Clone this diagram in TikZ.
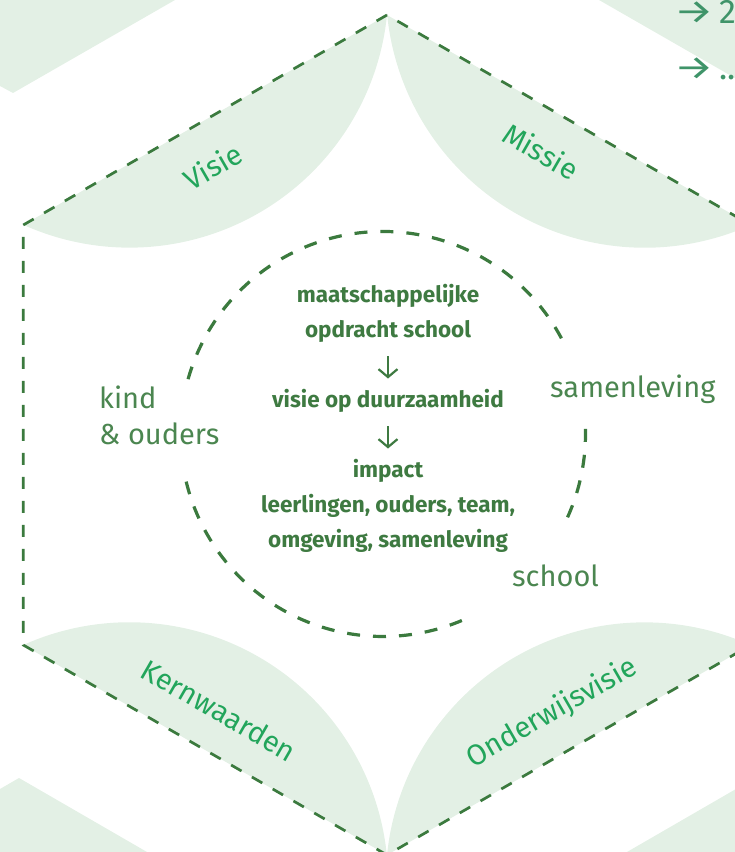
\documentclass[tikz,border=0pt]{standalone}
\usepackage{fontspec}
\setmainfont{Fira Sans}
\usepackage{xcolor}
\usepackage{tikz}
\usetikzlibrary{arrows.meta, calc}

\definecolor{vlak}{HTML}{E3F0E5}
\definecolor{lijn}{HTML}{3B7A3E}
\definecolor{blad}{HTML}{22A55B}
\definecolor{kern}{HTML}{3E7A41}
\definecolor{rand}{HTML}{4B8650}
\definecolor{pijl}{HTML}{3F9469}

\begin{document}
\begin{tikzpicture}[x=1pt, y=1pt,
  zeshoek/.style={lijn, line width=2.7pt, dash pattern=on 12pt off 12pt},
  cirkel/.style={lijn, line width=3.2pt, dash pattern=on 13pt off 13pt},
  bladtekst/.style={blad, font=\fontsize{29}{29}\selectfont},
  kerntekst/.style={kern, font=\bfseries\fontsize{22.5}{22.5}\selectfont, inner sep=0pt, anchor=base},
  randtekst/.style={rand, font=\fontsize{29}{36}\selectfont, inner sep=0pt},
  verwijs/.style={pijl, font=\fontsize{34}{34}\selectfont, inner sep=0pt, anchor=base west},
  volgt/.style={kern, line width=2.2pt, -{Straight Barb[length=8pt, width=19pt]}, shorten <=13pt, shorten >=11pt}
]
\useasboundingbox (0,0) rectangle (735,852);
\clip (0,0) rectangle (735,852);

% achtergrond, stukken van de buren
\fill[vlak] (0,852) -- (175,852) -- (13,759) -- (0,766) -- cycle;
\fill[vlak] (599,852) -- (761,759) -- (761,852) -- cycle;
\fill[vlak] (0,63) -- (19,74) -- (147,0) -- (0,0) -- cycle;
\fill[vlak] (627,0) -- (755,74) -- (755,0) -- cycle;

% zeshoek
\coordinate (O) at (387,417);
\foreach \h/\n in {90/top,150/linksboven,210/linksonder,270/bodem,330/rechtsonder,30/rechtsboven}
  \coordinate (\n) at ($(O)+(\h:420)$);

% bladen
\foreach \p in {60,120,240,300}
  \fill[vlak] ($(O)+(\p+30:420)$) -- ($(O)+(\p-30:420)$)
    arc[start angle=\p+234.2, end angle=\p+125.8, radius=258.8];

\draw[zeshoek] (top) -- (linksboven) -- (linksonder) -- (bodem) -- (rechtsonder) -- (rechtsboven) -- cycle;

% onderbroken cirkel
\coordinate (M) at (383,418);
\draw[cirkel] ($(M)+(28.2:202.5)$) arc[start angle=28.2, end angle=165.3, radius=202.5];
\draw[cirkel] ($(M)+(193.6:202.5)$) arc[start angle=193.6, end angle=294.4, radius=202.5];
\draw[cirkel] ($(M)+(-24.3:202.5)$) arc[start angle=-24.3, end angle=1.7, radius=202.5];

\node[bladtekst, rotate=30] (visie) at (213,686) {Visie};
\node[bladtekst, rotate=-30] (missie) at (541,701) {Missie};
\node[bladtekst, rotate=-30] (kernwaarden) at (219,142) {Kernwaarden};
\node[bladtekst, rotate=30] (onderwijsvisie) at (552,139) {Onderwijsvisie};

% midden
\node[kerntekst] (maat) at (388,549) {maatschappelijke};
\node[kerntekst] (opdracht) at (388,514) {opdracht school};
\node[kerntekst] (duurzaam) at (388,444) {visie op duurzaamheid};
\node[kerntekst] (impact) at (388,374) {impact};
\node[kerntekst] (leerlingen) at (388,339) {leerlingen, ouders, team,};
\node[kerntekst] (omgeving) at (388,304) {omgeving, samenleving};
\draw[volgt] (opdracht.south) -- (duurzaam.north);
\draw[volgt] (duurzaam.south) -- (impact.north);

\node[randtekst, align=left, anchor=base west] (kind) at (99,407) {kind\\\& ouders};
\node[randtekst, anchor=base west] (samenleving) at (550,454) {samenleving};
\node[randtekst, anchor=base west] (school) at (512,265) {school};

% rechtsboven
\node[verwijs] (verwijs1) at (674,828) {\scalebox{1.3}[1]{→}\,2};
\node[verwijs] (verwijs2) at (674,772) {\scalebox{1.3}[1]{→}\,...};
\end{tikzpicture}
\end{document}
